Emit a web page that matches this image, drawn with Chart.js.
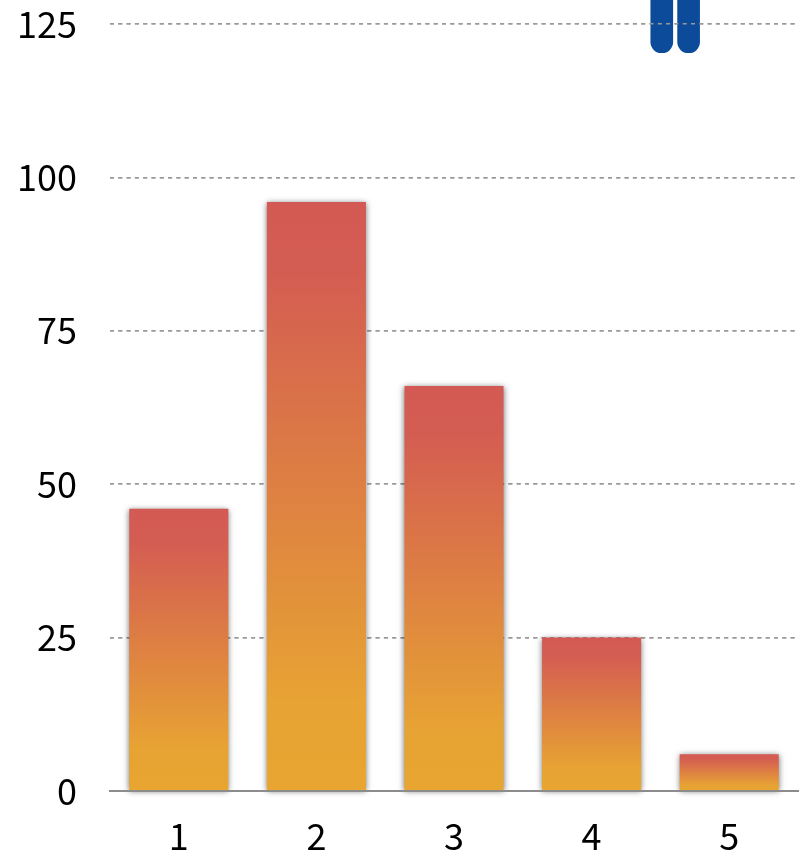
<!DOCTYPE html>
<html>
<head>
<meta charset="utf-8">
<title>Bar chart</title>
<script src="https://cdn.jsdelivr.net/npm/chart.js@4"></script>
<style>
    html, body { margin: 0; padding: 0; background: #fff; }
    canvas { display: block; }
</style>
</head>
<body>
<canvas id="barChart" width="800" height="854"></canvas>
<script>
// Chart data
const categories = ['1', '2', '3', '4', '5'];
const barValues = [46, 96, 66, 25, 6];
const yTicks = [0, 25, 50, 75, 100, 125];

// Blue bars hanging from above the top edge
const blueX = [4.51, 4.705];
const blueBottom = [120.3, 120.3];
const blueTop = [140, 140];

const gridColor = '#999999';
const axisColor = '#8c8c8c';
const textColor = '#000000';
const tickFont = { family: '"Noto Sans CJK JP", sans-serif', size: 36 };

// Each bar gets its own red to orange gradient
function barGradient(context) {
    const chart = context.chart;
    const value = barValues[context.dataIndex];
    // the options are also resolved once before the scales are ready
    if (!chart.chartArea || value === undefined) {
        return '#e8a530';
    }
    const y = chart.scales.y;
    const gradient = chart.ctx.createLinearGradient(0, y.getPixelForValue(value), 0, y.getPixelForValue(0));
    gradient.addColorStop(0, '#d35a54');
    gradient.addColorStop(0.12, '#d45d52');
    gradient.addColorStop(0.85, '#e7a333');
    gradient.addColorStop(1, '#e8a530');
    return gradient;
}

// Soft shadow on the orange bars, and grid lines over the blue ones
const barEffects = {
    id: 'barEffects',
    beforeDatasetDraw(chart, args) {
        if (args.index === 0) {
            const ctx = chart.ctx;
            ctx.save();
            ctx.shadowColor = 'rgba(0, 0, 0, 0.55)';
            ctx.shadowBlur = 6;
            ctx.shadowOffsetY = 1;
        }
    },
    afterDatasetDraw(chart, args) {
        if (args.index === 0) {
            chart.ctx.restore();
        } else {
            chart.scales.y.drawGrid(chart.chartArea);
        }
    }
};

new Chart(document.getElementById('barChart').getContext('2d'), {
    type: 'bar',
    data: {
        labels: categories,
        datasets: [{
            data: barValues,
            xAxisID: 'x',
            grouped: false,
            backgroundColor: barGradient,
            barPercentage: 0.72,
            categoryPercentage: 1,
            clip: false
        }, {
            data: blueX.map((x, i) => ({ x: x, y: [blueBottom[i], blueTop[i]] })),
            xAxisID: 'x2',
            grouped: false,
            backgroundColor: '#0c4a9a',
            barThickness: 22,
            borderRadius: 11,
            borderSkipped: false
        }]
    },
    options: {
        responsive: false,
        animation: false,
        layout: { padding: { right: 2 } },
        plugins: {
            legend: { display: false },
            tooltip: { enabled: false }
        },
        scales: {
            x: {
                grid: { display: false },
                border: { color: axisColor, width: 2, z: 1 },
                ticks: { color: textColor, font: tickFont, padding: 16, maxRotation: 0 },
                afterFit: scale => { scale.height = 63; }
            },
            x2: {
                type: 'linear',
                display: false,
                offset: false,
                min: 0.5,
                max: 5.5
            },
            y: {
                min: 0,
                max: 128.9,
                grid: {
                    color: gridColor,
                    lineWidth: 1.5,
                    drawTicks: false
                },
                border: { display: false, dash: [4, 4.3] },
                afterBuildTicks: scale => { scale.ticks = yTicks.map(v => ({ value: v })); },
                ticks: { color: textColor, font: tickFont, padding: 33, includeBounds: false },
                afterFit: scale => {
                    scale.width = 110;
                    // the plot runs right up to the top edge of the canvas
                    scale.paddingTop = 0;
                    scale.paddingBottom = 0;
                }
            }
        }
    },
    plugins: [barEffects]
});
</script>
</body>
</html>
